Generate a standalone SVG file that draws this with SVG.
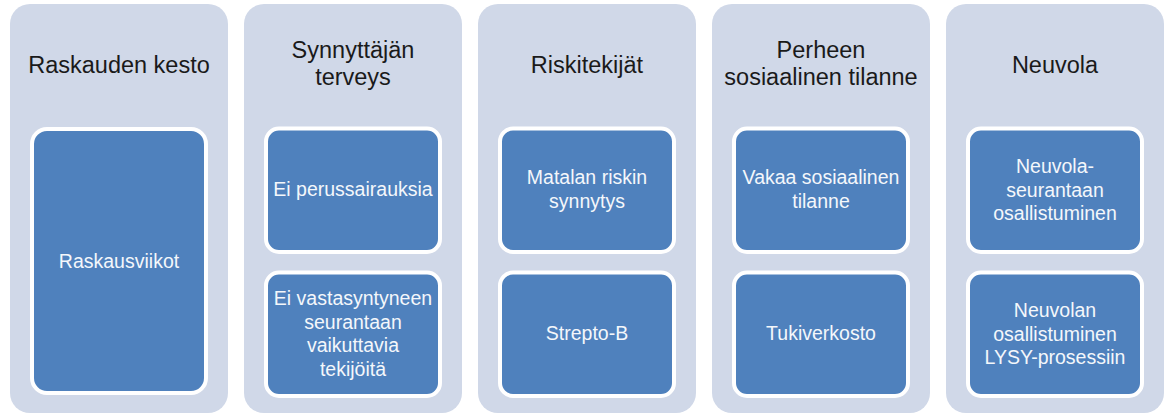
<svg xmlns="http://www.w3.org/2000/svg" width="1171" height="414" viewBox="0 0 1171 414">
<style>
.col{fill:#D0D8E8;}
.box{fill:#4F81BD;stroke:#FFFFFF;stroke-width:4;}
.title{font-family:"Liberation Sans",Arial,sans-serif;font-size:23.5px;fill:#1a1a1a;text-anchor:middle;}
.lbl{font-family:"Liberation Sans",Arial,sans-serif;font-size:19.5px;fill:#F4F7FB;text-anchor:middle;}
</style>
<rect width="1171" height="414" fill="#FFFFFF"/>
<g id="col1">
<rect class="col" x="10" y="4" width="218" height="409" rx="20"/>
<text class="title" x="119" y="73">Raskauden kesto</text>
<g id="raskausviikot">
<rect class="box" x="32" y="129" width="174" height="264" rx="15"/>
<text class="lbl" x="119" y="268">Raskausviikot</text>
</g>
</g>
<g id="col2">
<rect class="col" x="244" y="4" width="218" height="409" rx="20"/>
<text class="title" x="353" y="57.5">Synnyttäjän</text>
<text class="title" x="353" y="85">terveys</text>
<g id="perussairaudet">
<rect class="box" x="266" y="128.5" width="174" height="123.5" rx="13"/>
<text class="lbl" x="353" y="196">Ei perussairauksia</text>
</g>
<g id="vastasyntynyt">
<rect class="box" x="266" y="272.5" width="174" height="123.5" rx="13"/>
<text class="lbl" x="353" y="305">Ei vastasyntyneen</text>
<text class="lbl" x="353" y="328.5">seurantaan</text>
<text class="lbl" x="353" y="352">vaikuttavia</text>
<text class="lbl" x="353" y="375.5">tekijöitä</text>
</g>
</g>
<g id="col3">
<rect class="col" x="478" y="4" width="218" height="409" rx="20"/>
<text class="title" x="587" y="73">Riskitekijät</text>
<g id="matalariski">
<rect class="box" x="500" y="128.5" width="174" height="123.5" rx="13"/>
<text class="lbl" x="587" y="184">Matalan riskin</text>
<text class="lbl" x="587" y="207.5">synnytys</text>
</g>
<g id="strepto">
<rect class="box" x="500" y="272.5" width="174" height="123.5" rx="13"/>
<text class="lbl" x="587" y="340">Strepto-B</text>
</g>
</g>
<g id="col4">
<rect class="col" x="712" y="4" width="218" height="409" rx="20"/>
<text class="title" x="821" y="57.5">Perheen</text>
<text class="title" x="821" y="85">sosiaalinen tilanne</text>
<g id="vakaa">
<rect class="box" x="734" y="128.5" width="174" height="123.5" rx="13"/>
<text class="lbl" x="821" y="184">Vakaa sosiaalinen</text>
<text class="lbl" x="821" y="207.5">tilanne</text>
</g>
<g id="tukiverkosto">
<rect class="box" x="734" y="272.5" width="174" height="123.5" rx="13"/>
<text class="lbl" x="821" y="340">Tukiverkosto</text>
</g>
</g>
<g id="col5">
<rect class="col" x="946" y="4" width="218" height="409" rx="20"/>
<text class="title" x="1055" y="73">Neuvola</text>
<g id="neuvolaseuranta">
<rect class="box" x="968" y="128.5" width="174" height="123.5" rx="13"/>
<text class="lbl" x="1055" y="173">Neuvola-</text>
<text class="lbl" x="1055" y="196.5">seurantaan</text>
<text class="lbl" x="1055" y="220">osallistuminen</text>
</g>
<g id="lysy">
<rect class="box" x="968" y="272.5" width="174" height="123.5" rx="13"/>
<text class="lbl" x="1055" y="317">Neuvolan</text>
<text class="lbl" x="1055" y="340.5">osallistuminen</text>
<text class="lbl" x="1055" y="364">LYSY-prosessiin</text>
</g>
</g>
</svg>
